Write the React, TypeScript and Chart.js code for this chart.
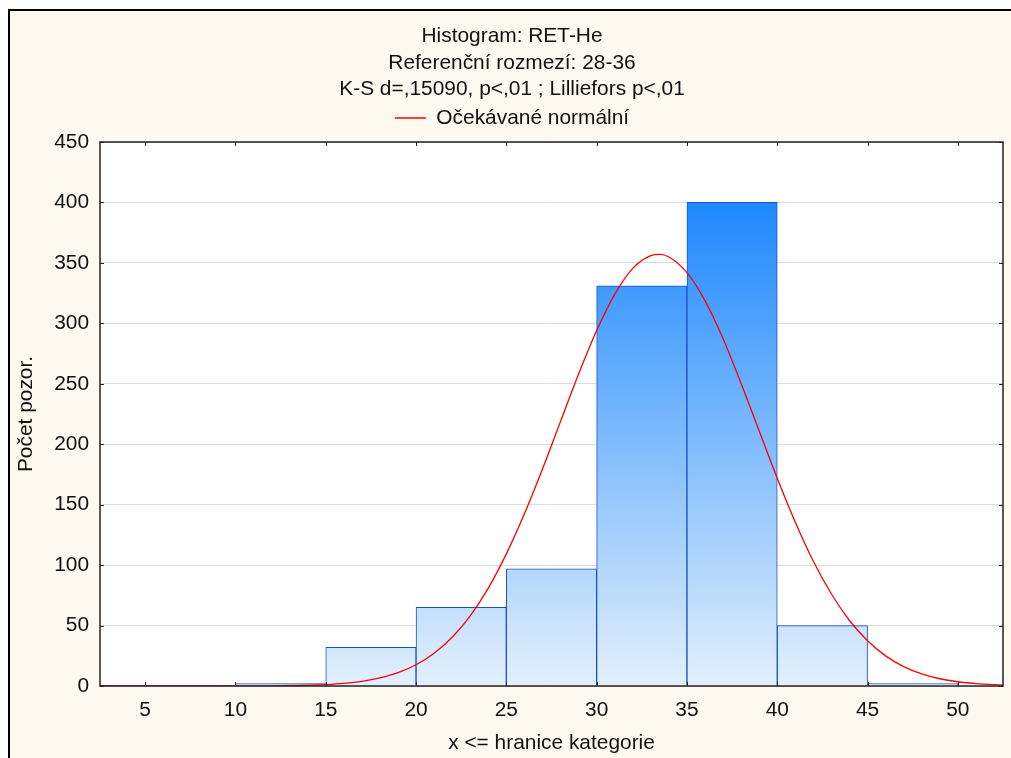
import React, { useEffect, useRef } from "react";
import { Chart, registerables } from "chart.js";

Chart.register(...registerables);

// ---- data ----
const titleLines = [
  "Histogram: RET-He",
  "Referenční rozmezí: 28-36",
  "K-S d=,15090, p<,01 ; Lilliefors p<,01",
];
const legendLabel = "Očekávané normální";
const xAxisTitle = "x <= hranice kategorie";
const yAxisTitle = "Počet pozor.";

const binWidth = 5;
const binStarts = [10, 15, 20, 25, 30, 35, 40, 45];
const binCounts = [2, 32, 65, 97, 331, 400, 50, 2];

const xTickValues = [5, 10, 15, 20, 25, 30, 35, 40, 45, 50];
const xMin = 2.5;
const xMax = 52.5;
const yMin = 0;
const yMax = 450;
const yStep = 50;

// expected normal curve
const curveX = [2.5, 5, 8, 10, 12, 14, 15, 16, 17, 18, 19, 20, 21, 22, 23, 24, 25, 26, 27, 28, 29, 30, 31, 32, 33, 33.5, 34, 35, 36, 37, 38, 39, 40, 41, 42, 43, 44, 45, 46, 47, 48, 49, 50, 51, 52, 52.5];
const curveY = [0, 0, 0.01, 0.04, 0.16, 0.65, 1.2, 2.2, 3.9, 6.7, 11.0, 17.6, 27.1, 40.3, 58.1, 81.0, 109.3, 142.4, 179.5, 218.9, 258, 294, 324, 345.5, 356, 357, 354.9, 342, 318.8, 287.3, 250.3, 211, 171.9, 135.5, 103.2, 76.1, 54.2, 37.4, 24.9, 16.0, 10.0, 6.0, 3.5, 2.0, 1.1, 0.8];

const FONT = '"Liberation Sans", Arial, sans-serif';
const FS = 20.9;
const CREAM = "#FDF9EE";

const framePlugin = {
  id: "frame",
  beforeDraw(chart: any) {
    const { ctx, chartArea, width, height } = chart;
    ctx.save();
    ctx.fillStyle = CREAM;
    ctx.fillRect(0, 0, width, height);
    ctx.fillStyle = "#FFFFFF";
    ctx.fillRect(chartArea.left, chartArea.top, chartArea.right - chartArea.left, chartArea.bottom - chartArea.top);
    ctx.restore();
  },
  afterDatasetsDraw(chart: any) {
    const { ctx, chartArea } = chart;
    const { left, right, top, bottom } = chartArea;
    const xs = chart.scales.x;
    const ys = chart.scales.y;
    ctx.save();
    ctx.strokeStyle = "#222222";
    ctx.lineWidth = 1.5;
    ctx.strokeRect(left, top, right - left, bottom - top);
    ctx.lineWidth = 1;
    const tl = 4;
    ctx.beginPath();
    xTickValues.forEach((v) => {
      const px = Math.round(xs.getPixelForValue(v)) + 0.5;
      ctx.moveTo(px, bottom);
      ctx.lineTo(px, bottom - tl);
      ctx.moveTo(px, top);
      ctx.lineTo(px, top + tl);
    });
    for (let v = yMin; v <= yMax; v += yStep) {
      const py = Math.round(ys.getPixelForValue(v)) + 0.5;
      ctx.moveTo(left, py);
      ctx.lineTo(left + tl, py);
      ctx.moveTo(right, py);
      ctx.lineTo(right - tl, py);
    }
    ctx.stroke();
    ctx.restore();
  },
};

export default function App() {
  const ref = useRef<HTMLCanvasElement | null>(null);

  useEffect(() => {
    if (!ref.current) return;
    Chart.defaults.font.family = FONT;
    Chart.defaults.color = "#111111";

    const barData = binStarts.map((s, i) => ({ x: s + binWidth / 2, y: binCounts[i] }));
    const curveData = curveX.map((x, i) => ({ x, y: curveY[i] }));

    const chart = new Chart(ref.current, {
      type: "bar",
      data: {
        datasets: [
          {
            type: "line",
            label: legendLabel,
            data: curveData,
            borderColor: "#FF0000",
            backgroundColor: "#FF0000",
            borderWidth: 1.3,
            pointRadius: 0,
            fill: false,
            cubicInterpolationMode: "monotone",
            order: 0,
          } as any,
          {
            type: "bar",
            label: "bars",
            data: barData,
            backgroundColor: (c: any) => {
              const { chart } = c;
              const { ctx, chartArea, scales } = chart;
              if (!chartArea) return "#7FB8FF";
              const g = ctx.createLinearGradient(0, scales.y.getPixelForValue(0), 0, scales.y.getPixelForValue(400));
              g.addColorStop(0, "#E3F0FC");
              g.addColorStop(1, "#1E88FF");
              return g;
            },
            borderColor: "#1A50C8",
            borderWidth: 1,
            barPercentage: 1,
            categoryPercentage: 1,
            order: 1,
          } as any,
        ],
      },
      options: {
        responsive: false,
        animation: false,
        layout: { padding: 0 },
        plugins: {
          tooltip: { enabled: false },
          title: {
            display: true,
            text: titleLines,
            color: "#111111",
            font: { size: FS, weight: "normal", lineHeight: 26.5 / FS },
            padding: { top: 12.25, bottom: -0.2 },
          },
          legend: {
            display: true,
            position: "top",
            labels: {
              filter: (item: any) => item.datasetIndex === 0,
              usePointStyle: true,
              pointStyle: "line",
              pointStyleWidth: 31,
              boxHeight: FS,
              padding: 5,
              color: "#111111",
              font: { size: FS },
            },
          },
        },
        scales: {
          x: {
            type: "linear",
            position: "bottom",
            min: xMin,
            max: xMax,
            offset: false,
            grid: { display: false, drawTicks: false },
            border: { display: false },
            afterBuildTicks: (s: any) => {
              s.ticks = xTickValues.map((v) => ({ value: v }));
            },
            afterFit: (s: any) => {
              s.height = 85;
            },
            ticks: {
              padding: 12,
              color: "#111111",
              font: { size: FS },
              maxRotation: 0,
              autoSkip: false,
            },
            title: {
              display: true,
              text: xAxisTitle,
              color: "#111111",
              font: { size: FS },
              padding: { top: 4, bottom: 15.5 },
            },
          },
          xTop: {
            type: "linear",
            position: "top",
            min: xMin,
            max: xMax,
            display: true,
            grid: { display: false, drawTicks: false },
            border: { display: false },
            ticks: { display: false },
            afterFit: (s: any) => {
              s.height = 3.55;
            },
          },
          y: {
            type: "linear",
            position: "left",
            min: yMin,
            max: yMax,
            grid: { color: "#DCDCDC", lineWidth: 1, drawTicks: false },
            border: { display: false },
            afterFit: (s: any) => {
              s.width = 90;
            },
            ticks: {
              stepSize: yStep,
              padding: 11,
              color: "#111111",
              font: { size: FS },
            },
            title: {
              display: true,
              text: yAxisTitle,
              color: "#111111",
              font: { size: FS },
              padding: { top: 4, bottom: 4 },
            },
          },
          yRight: {
            type: "linear",
            position: "right",
            min: yMin,
            max: yMax,
            display: true,
            grid: { display: false, drawTicks: false },
            border: { display: false },
            ticks: { display: false },
            afterFit: (s: any) => {
              s.width = 11;
            },
          },
        },
      } as any,
      plugins: [framePlugin],
    });
    return () => chart.destroy();
  }, []);

  return (
    <div
      style={{
        position: "absolute",
        left: 8,
        top: 9,
        width: 1003,
        height: 749,
        overflow: "hidden",
        borderTop: "2px solid #000",
        borderLeft: "2px solid #000",
        boxSizing: "border-box",
        background: CREAM,
      }}
    >
      <canvas ref={ref} width={1004} height={760} style={{ display: "block", width: 1004, height: 760 }} />
    </div>
  );
}
